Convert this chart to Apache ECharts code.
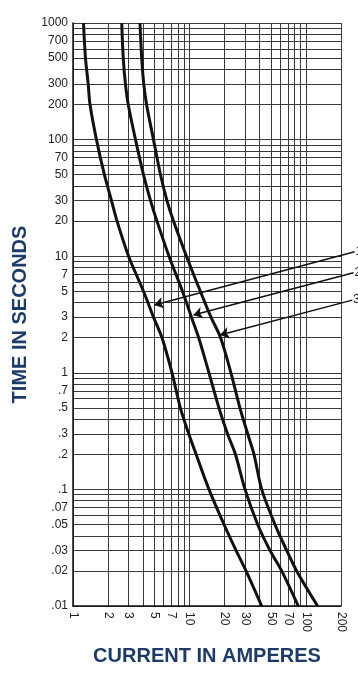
<!DOCTYPE html>
<html><head><meta charset="utf-8">
<script src="https://cdn.jsdelivr.net/npm/echarts@6/dist/echarts.min.js"></script>
<style>html,body{margin:0;padding:0;background:#fff}#c{width:358px;height:675px}</style>
</head><body><div id="c"></div>
<script>
// Time (seconds) sampled along each curve
var times = [1000,500,300,200,100,50,30,20,10,5,3,2,1,0.5,0.3,0.2,0.1,0.05,0.03,0.02,0.01];
// Current (amperes) for curves 1,2,3 at those times
var curve1 = [1.23,1.28,1.35,1.40,1.59,1.86,2.14,2.39,3.00,4.03,4.91,5.81,7.08,8.35,9.85,11.4,14.7,19.8,25.1,30.6,41.7];
var curve2 = [2.62,2.70,2.82,2.98,3.44,4.03,4.63,5.26,6.67,8.71,10.4,12.0,14.7,17.9,21.2,24.8,30.0,38.5,49.1,61.9,85.9];
var curve3 = [3.76,3.89,4.05,4.28,4.91,5.64,6.41,7.29,9.42,12.4,15.3,18.5,22.7,27.1,31.6,35.8,41.7,54.2,68.3,83.2,126];
// Tick labels
var xLabels = [1,2,3,5,7,10,20,30,50,70,100,200];
var yLabels = [1000,700,500,300,200,100,70,50,30,20,10,7,5,3,2,1,0.7,0.5,0.3,0.2,0.1,0.07,0.05,0.03,0.02,0.01];
// Curve callouts: label, start [current, time], tip [current, time]
var calloutNames = ['1','2','3'];
var calloutStart = [[262,10.9],[256,7.2],[250,4.2]];
var calloutTip = [[5.0,3.81],[10.8,3.13],[18.3,2.11]];

function decadeGrid(k0, k1, maxV) {
  var out = [];
  for (var k = k0; k <= k1; k++) for (var m = 1; m <= 9; m++) {
    var v = Number((m * Math.pow(10, k)).toPrecision(6));
    if (v <= maxV) out.push(v);
  }
  return out;
}
var xGrid = decadeGrid(0, 2, 200);
var yGrid = decadeGrid(-2, 3, 1000);

function pairs(xs) { return xs.map(function (x, i) { return [x, times[i]]; }); }
function fmtY(v) { var s = String(Number(Number(v).toPrecision(6))); return s.replace(/^0\./, '.'); }

var navy = '#1d3b6a';
var chart = echarts.init(document.getElementById('c'));
var curveStyle = { color: '#111', width: 3 };
var series = [curve1, curve2, curve3].map(function (c) {
  return { type: 'line', data: pairs(c), showSymbol: false, smooth: 0.3, lineStyle: curveStyle, z: 5 };
});
series.push({
  type: 'lines', coordinateSystem: 'cartesian2d', clip: false, z: 6,
  symbol: ['none', 'arrow'], symbolSize: [0, 9],
  lineStyle: { color: '#111', width: 1.5, opacity: 1 },
  label: { show: true, position: 'start', distance: 1, color: '#222', fontSize: 12, fontFamily: 'Liberation Sans',
    formatter: function (p) { return p.name; } },
  data: calloutNames.map(function (n, i) { return { name: n, coords: [calloutStart[i], calloutTip[i]] }; })
});
chart.setOption({
  animation: false,
  grid: { left: 73, right: 17, top: 23, bottom: 69, containLabel: false },
  xAxis: {
    type: 'log', min: 1, max: 200, logBase: 10,
    name: 'CURRENT IN AMPERES', nameLocation: 'middle', nameGap: 40,
    nameTextStyle: { color: navy, fontSize: 20, fontWeight: 'bold', fontFamily: 'Liberation Sans' },
    axisLine: { show: true, lineStyle: { color: '#111', width: 1.5 } },
    axisTick: { show: false, customValues: xGrid },
    axisLabel: { customValues: xLabels, rotate: -90, color: '#222', fontSize: 12, fontFamily: 'Liberation Sans', margin: 6,
      formatter: function (v) { return String(Number(Number(v).toPrecision(6))); } },
    splitLine: { show: true, lineStyle: { color: '#3a3a3a', width: 1 } }
  },
  yAxis: {
    type: 'log', min: 0.01, max: 1000, logBase: 10,
    name: 'TIME IN SECONDS', nameLocation: 'middle', nameGap: 42, nameRotate: 90,
    nameTextStyle: { color: navy, fontSize: 20, fontWeight: 'bold', fontFamily: 'Liberation Sans' },
    axisLine: { show: true, lineStyle: { color: '#111', width: 1.5 } },
    axisTick: { show: false, customValues: yGrid },
    axisLabel: { customValues: yLabels, color: '#222', fontSize: 12, fontFamily: 'Liberation Sans', margin: 5, formatter: fmtY },
    splitLine: { show: true, lineStyle: { color: '#3a3a3a', width: 1 } }
  },
  series: series
});
</script></body></html>
